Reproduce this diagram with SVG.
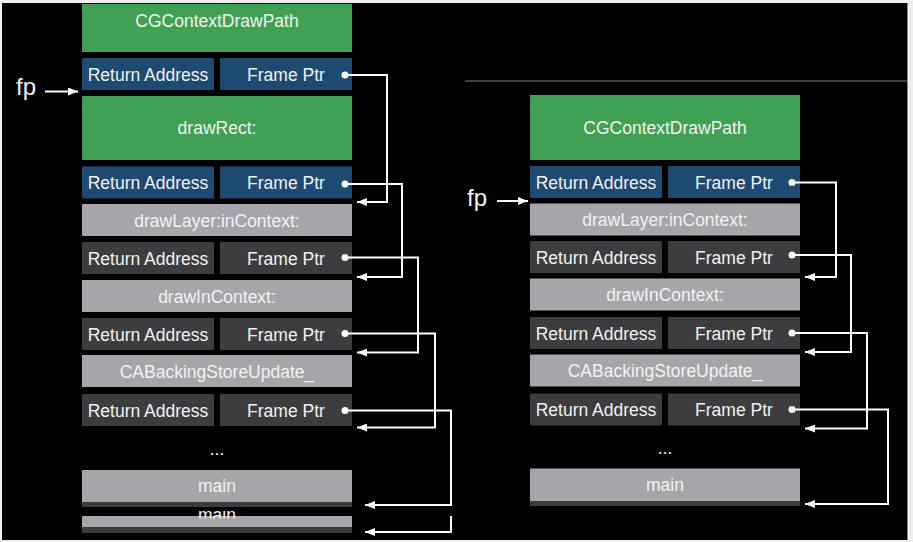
<svg xmlns="http://www.w3.org/2000/svg" width="913" height="542" viewBox="0 0 913 542">
<defs>
<style>
.g{fill:#40a153}.b{fill:#1e4a72}.l{fill:#a6a5aa}.d{fill:#3d3d3f}
text{font-family:"Liberation Sans",Arial,sans-serif;font-size:17.5px;fill:#f2f2f2;text-anchor:middle}
.fp{font-size:24px;text-anchor:start}
.c{fill:none;stroke:#ffffff;stroke-width:2}
.dot{fill:#ffffff}
</style>
<marker id="ah" viewBox="0 0 10 8" refX="10" refY="4" markerWidth="10" markerHeight="8" markerUnits="userSpaceOnUse" orient="auto">
<path d="M0,0 L10,4 L0,8 z" fill="#ffffff"/>
</marker>
<clipPath id="clipMain"><rect x="82" y="511" width="270" height="7.5"/></clipPath>
</defs>
<rect x="0" y="0" width="913" height="542" fill="#eeeeee"/>
<rect x="2" y="3" width="905" height="537" fill="#000000"/>
<line x1="907.5" y1="3" x2="907.5" y2="540" stroke="#8a8a8a" stroke-width="1"/>
<line x1="465" y1="81" x2="907" y2="81" stroke="#555555" stroke-width="1.5"/>

<!-- Left stack -->
<g id="L-cgcontext"><rect class="g" x="82" y="4" width="270" height="48"/><text x="217" y="27">CGContextDrawPath</text></g>
<g id="L-ret1"><rect class="b" x="82" y="58" width="132" height="32"/><text x="148" y="80.5">Return Address</text></g>
<g id="L-fp1"><rect class="b" x="220" y="58" width="132" height="32"/><text x="286" y="80.5">Frame Ptr</text></g>
<g id="L-drawrect"><rect class="g" x="82" y="96" width="270" height="64"/><text x="217" y="134">drawRect:</text></g>
<g id="L-ret2"><rect class="b" x="82" y="166.5" width="132" height="32"/><text x="148" y="188.5">Return Address</text></g>
<g id="L-fp2"><rect class="b" x="220" y="166.5" width="132" height="32"/><text x="286" y="188.5">Frame Ptr</text></g>
<g id="L-drawlayer"><rect class="l" x="82" y="204" width="270" height="32"/><text x="217" y="226.5">drawLayer:inContext:</text></g>
<g id="L-ret3"><rect class="d" x="82" y="242" width="132" height="32"/><text x="148" y="264.5">Return Address</text></g>
<g id="L-fp3"><rect class="d" x="220" y="242" width="132" height="32"/><text x="286" y="264.5">Frame Ptr</text></g>
<g id="L-drawincontext"><rect class="l" x="82" y="280" width="270" height="32"/><text x="217" y="302.5">drawInContext:</text></g>
<g id="L-ret4"><rect class="d" x="82" y="318" width="132" height="32"/><text x="148" y="340.5">Return Address</text></g>
<g id="L-fp4"><rect class="d" x="220" y="318" width="132" height="32"/><text x="286" y="340.5">Frame Ptr</text></g>
<g id="L-cabacking"><rect class="l" x="82" y="355" width="270" height="32"/><text x="217" y="377.5">CABackingStoreUpdate_</text></g>
<g id="L-ret5"><rect class="d" x="82" y="394" width="132" height="32"/><text x="148" y="416.5">Return Address</text></g>
<g id="L-fp5"><rect class="d" x="220" y="394" width="132" height="32"/><text x="286" y="416.5">Frame Ptr</text></g>
<g id="L-ellipsis"><text x="217" y="455">...</text></g>
<g id="L-main"><rect class="l" x="82" y="470" width="270" height="32"/><rect class="d" x="82" y="502" width="270" height="5"/><text x="217" y="492">main</text></g>
<g id="L-main2"><rect class="l" x="82" y="516" width="270" height="11"/><rect class="d" x="82" y="527" width="270" height="6"/><text x="217" y="521" clip-path="url(#clipMain)">main</text></g>
<g id="L-fp"><text class="fp" x="16" y="95">fp</text></g>

<!-- Right stack -->
<g id="R-cgcontext"><rect class="g" x="530" y="95" width="270" height="65"/><text x="665" y="134">CGContextDrawPath</text></g>
<g id="R-ret1"><rect class="b" x="530" y="166" width="132" height="32"/><text x="596" y="188.5">Return Address</text></g>
<g id="R-fp1"><rect class="b" x="668" y="166" width="132" height="32"/><text x="734" y="188.5">Frame Ptr</text></g>
<g id="R-drawlayer"><rect class="l" x="530" y="203.5" width="270" height="32"/><text x="665" y="225.5">drawLayer:inContext:</text></g>
<g id="R-ret2"><rect class="d" x="530" y="241" width="132" height="32"/><text x="596" y="263.5">Return Address</text></g>
<g id="R-fp2"><rect class="d" x="668" y="241" width="132" height="32"/><text x="734" y="263.5">Frame Ptr</text></g>
<g id="R-drawincontext"><rect class="l" x="530" y="278.5" width="270" height="32"/><text x="665" y="301">drawInContext:</text></g>
<g id="R-ret3"><rect class="d" x="530" y="317" width="132" height="32"/><text x="596" y="339.5">Return Address</text></g>
<g id="R-fp3"><rect class="d" x="668" y="317" width="132" height="32"/><text x="734" y="339.5">Frame Ptr</text></g>
<g id="R-cabacking"><rect class="l" x="530" y="354.5" width="270" height="32"/><text x="665" y="377">CABackingStoreUpdate_</text></g>
<g id="R-ret4"><rect class="d" x="530" y="393.5" width="132" height="32"/><text x="596" y="415.5">Return Address</text></g>
<g id="R-fp4"><rect class="d" x="668" y="393.5" width="132" height="32"/><text x="734" y="415.5">Frame Ptr</text></g>
<g id="R-ellipsis"><text x="665" y="454">...</text></g>
<g id="R-main"><rect class="l" x="530" y="468.5" width="270" height="32.5"/><rect class="d" x="530" y="501" width="270" height="5"/><text x="665" y="491">main</text></g>
<g id="R-fp"><text class="fp" x="467" y="206">fp</text></g>

<g id="connectors">
<path class="c" d="M45,91.5 H78" marker-end="url(#ah)"/>
<path class="c" d="M497,201 H528" marker-end="url(#ah)"/>
<circle class="dot" cx="345" cy="75" r="3.5"/>
<circle class="dot" cx="345" cy="184" r="3.5"/>
<circle class="dot" cx="345" cy="257.5" r="3.5"/>
<circle class="dot" cx="345" cy="333.5" r="3.5"/>
<circle class="dot" cx="345" cy="410.5" r="3.5"/>
<path class="c" d="M345,75 H387 V202 H357" marker-end="url(#ah)"/>
<path class="c" d="M345,184 H402 V277 H357" marker-end="url(#ah)"/>
<path class="c" d="M345,257.5 H418 V352.5 H357" marker-end="url(#ah)"/>
<path class="c" d="M345,333.5 H435 V427.5 H357" marker-end="url(#ah)"/>
<path class="c" d="M345,410.5 H451 V505 H365" marker-end="url(#ah)"/>
<path class="c" d="M451,516 V532 H365" marker-end="url(#ah)"/>
<circle class="dot" cx="792" cy="182.5" r="3.5"/>
<circle class="dot" cx="792" cy="255" r="3.5"/>
<circle class="dot" cx="792" cy="333" r="3.5"/>
<circle class="dot" cx="792" cy="409.5" r="3.5"/>
<path class="c" d="M792,182.5 H836 V277 H805" marker-end="url(#ah)"/>
<path class="c" d="M792,255 H851 V352 H805" marker-end="url(#ah)"/>
<path class="c" d="M792,333 H867 V428.5 H805" marker-end="url(#ah)"/>
<path class="c" d="M792,409.5 H888 V504 H805" marker-end="url(#ah)"/>
</g>
</svg>
